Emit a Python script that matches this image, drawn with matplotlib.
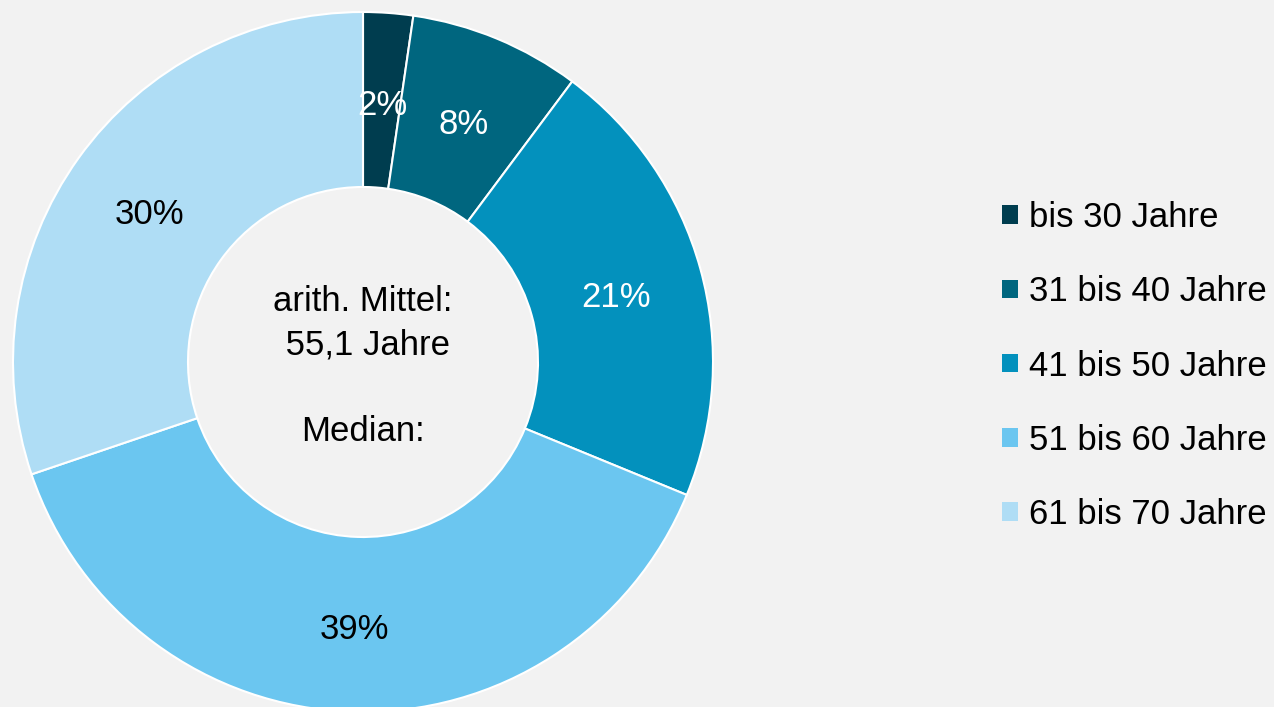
import matplotlib
matplotlib.use('Agg')
import matplotlib.pyplot as plt
from matplotlib.patches import Patch

# Altersverteilung
categories = ['bis 30 Jahre', '31 bis 40 Jahre', '41 bis 50 Jahre', '51 bis 60 Jahre', '61 bis 70 Jahre']
values = [2.3, 7.9, 21.0, 38.6, 30.2]
labels = ['2%', '8%', '21%', '39%', '30%']
colors = ['#003d4f', '#00667f', '#0391bd', '#6bc6f0', '#afddf5']
label_colors = ['white', 'white', 'white', 'black', 'black']
center_text = 'arith. Mittel:\n 55,1 Jahre\n\nMedian:'

plt.rcParams['font.family'] = ['Liberation Sans', 'DejaVu Sans']
bg = '#f2f2f2'

fig = plt.figure(figsize=(12.74, 7.07), dpi=100, facecolor=bg)
ax = fig.add_axes([13 / 1274, -5 / 707, 700 / 1274, 700 / 707])
ax.set_facecolor(bg)

wedges, texts = ax.pie(values, colors=colors, startangle=90, counterclock=False,
                       radius=1.0, labels=labels, labeldistance=0.75,
                       wedgeprops=dict(width=0.5, edgecolor='white', linewidth=1.5),
                       textprops=dict(fontsize=25))
for t, c in zip(texts, label_colors):
    t.set_color(c)
    t.set_horizontalalignment('center')
    t.set_verticalalignment('center')
    x, y = t.get_position()
    t.set_position((x, y - 0.015))

ax.text(0, -0.013, center_text, ha='center', va='center', fontsize=25,
        linespacing=1.39, multialignment='center')
ax.set_xlim(-1, 1)
ax.set_ylim(-1, 1)
ax.set_aspect('equal')
ax.axis('off')

handles = [Patch(facecolor=c, edgecolor='none') for c in colors]
fig.legend(handles, categories, loc='upper left', bbox_to_anchor=(988 / 1274, 1 - 187 / 707),
           frameon=False, fontsize=25, handlelength=0.45, handleheight=0.45,
           handletextpad=0.32, labelspacing=1.19, borderaxespad=0)

fig.savefig('out.png', dpi=100, facecolor=bg)
